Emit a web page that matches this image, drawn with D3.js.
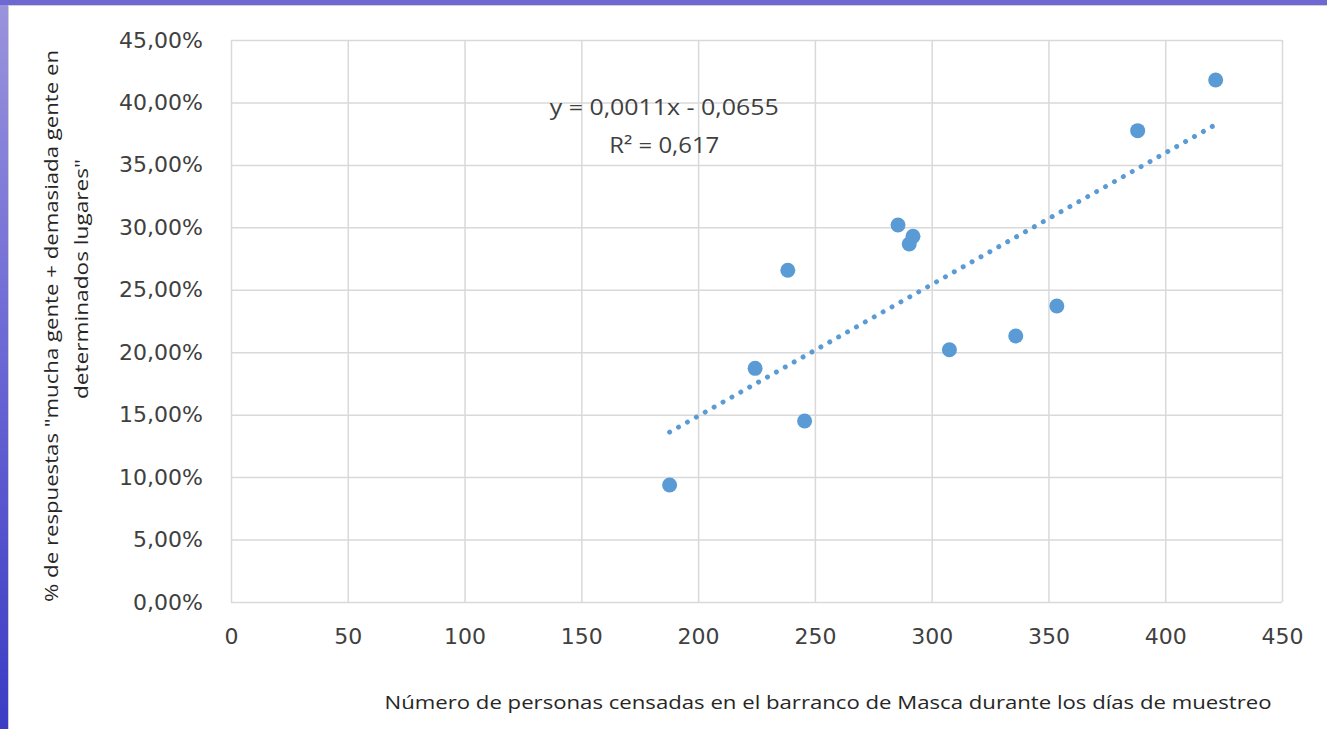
<!DOCTYPE html>
<html>
<head>
<meta charset="utf-8">
<script src="https://cdn.jsdelivr.net/npm/d3@7/dist/d3.min.js"></script>
<style>
  html, body { margin: 0; padding: 0; background: #fff; }
  svg { display: block; }
</style>
</head>
<body>
<div id="chart"></div>
<script>
// personas censadas (x) y % respuestas (y)
var personas = [187.8, 224.4, 238.4, 245.6, 285.6, 292.0, 290.4, 307.6, 336.0, 353.6, 388.2, 421.6]
var respuestas = [0.0937, 0.1871, 0.2656, 0.1449, 0.3019, 0.2928, 0.2866, 0.2020, 0.2130, 0.2370, 0.3774, 0.4180]
var xTicks = [0, 50, 100, 150, 200, 250, 300, 350, 400, 450]
var yTicks = [0, 0.05, 0.10, 0.15, 0.20, 0.25, 0.30, 0.35, 0.40, 0.45]
var equationLines = ["y = 0,0011x  - 0,0655", "R\u00B2 = 0,617"]
var xTitle = "Número  de personas censadas en el barranco de Masca durante los días de muestreo"
var yTitleLines = ["% de respuestas \"mucha gente + demasiada gente en", "determinados lugares\""]

var width = 1327, height = 729
var dimensions = {
  width: width,
  height: height,
  margin: { top: 40, right: 45, bottom: 127, left: 231 }
}
dimensions.boundedWidth = dimensions.width - dimensions.margin.left - dimensions.margin.right
dimensions.boundedHeight = dimensions.height - dimensions.margin.top - dimensions.margin.bottom

var pointColour = '#5B9BD5'
var gridColour = '#D9D9D9'
var textColour = '#404040'

var svg = d3.select("#chart").append("svg")
  .attr("width", width)
  .attr("height", height)

// slide background strips
var grad = svg.append("defs").append("linearGradient")
  .attr("id", "bgGrad").attr("x1", 0).attr("y1", 0).attr("x2", 0).attr("y2", 1)
grad.append("stop").attr("offset", "0%").attr("stop-color", "#9a94dc")
grad.append("stop").attr("offset", "50%").attr("stop-color", "#6a66d4")
grad.append("stop").attr("offset", "100%").attr("stop-color", "#3a3cc4")

svg.append("rect").attr("width", width).attr("height", height).attr("fill", "url(#bgGrad)")
svg.append("rect").attr("x", 0).attr("y", 0).attr("width", width).attr("height", 5)
  .attr("fill", "#6e68d2")
svg.append("rect").attr("x", 8.5).attr("y", 5.5).attr("width", width).attr("height", height)
  .attr("fill", "#fff").attr("stroke", "#d0d0d0").attr("stroke-width", 1)

var bounds = svg.append("g")
  .attr("transform", `translate(${dimensions.margin.left},${dimensions.margin.top})`)

var xScale = d3.scaleLinear()
  .domain([0, 450])
  .range([0, dimensions.boundedWidth])

var yScale = d3.scaleLinear()
  .domain([0, 0.45])
  .range([dimensions.boundedHeight, 0])

var pctFormat = d => d3.format(".2f")(d * 100).replace(".", ",") + "%"

// gridlines
bounds.append("g")
  .call(d3.axisLeft(yScale).tickValues(yTicks).tickSize(-dimensions.boundedWidth).tickFormat(""))
  .call(g => g.select(".domain").remove())
  .call(g => g.selectAll("line").attr("stroke", gridColour).attr("stroke-width", 1.5))

bounds.append("g")
  .call(d3.axisBottom(xScale).tickValues(xTicks).tickSize(dimensions.boundedHeight).tickFormat(""))
  .call(g => g.select(".domain").remove())
  .call(g => g.selectAll("line").attr("stroke", gridColour).attr("stroke-width", 1.5))

// tick labels
var yAxis = bounds.append("g")
  .call(d3.axisLeft(yScale).tickValues(yTicks).tickSize(0).tickPadding(28).tickFormat(pctFormat))
  .call(g => g.select(".domain").remove())
yAxis.selectAll("text")
  .attr("fill", textColour)
  .style("font-family", "DejaVu Sans")
  .style("font-size", "22px")

var xAxis = bounds.append("g")
  .attr("transform", `translate(0,${dimensions.boundedHeight})`)
  .call(d3.axisBottom(xScale).tickValues(xTicks).tickSize(0).tickPadding(26))
  .call(g => g.select(".domain").remove())
xAxis.selectAll("text")
  .attr("fill", textColour)
  .style("font-family", "DejaVu Sans")
  .style("font-size", "22px")

// trendline (least squares from the data)
var mx = d3.mean(personas), my = d3.mean(respuestas)
var sxy = d3.sum(personas, (x, i) => (x - mx) * (respuestas[i] - my))
var sxx = d3.sum(personas, x => (x - mx) * (x - mx))
var slope = sxy / sxx
var intercept = my - slope * mx
var xExtent = d3.extent(personas)
var trend = xExtent.map(x => [x, intercept + slope * x])

bounds.append("path")
  .datum(trend)
  .attr("d", d3.line().x(d => xScale(d[0])).y(d => yScale(d[1])))
  .attr("fill", "none")
  .attr("stroke", pointColour)
  .attr("stroke-width", 5)
  .attr("stroke-linecap", "round")
  .attr("stroke-dasharray", "0.01 10.2")

// points
bounds.selectAll(".node")
  .data(personas)
  .enter()
  .append("circle")
  .attr("class", "node")
  .attr("cx", d => xScale(d))
  .attr("cy", (d, i) => yScale(respuestas[i]))
  .attr("r", 7.5)
  .attr("fill", pointColour)

// equation label
var eqLens = [229, 110]
bounds.append("g")
  .selectAll("text")
  .data(equationLines)
  .enter()
  .append("text")
  .attr("x", xScale(185.5))
  .attr("y", (d, i) => 75 + i * 38)
  .attr("text-anchor", "middle")
  .attr("fill", textColour)
  .attr("textLength", (d, i) => eqLens[i])
  .attr("lengthAdjust", "spacingAndGlyphs")
  .style("font-family", "Open Sans")
  .style("font-size", "22px")
  .text(d => d)

// axis titles
svg.append("text")
  .attr("x", 828)
  .attr("y", 709)
  .attr("text-anchor", "middle")
  .attr("fill", "#262626")
  .attr("textLength", 887)
  .attr("lengthAdjust", "spacingAndGlyphs")
  .style("font-family", "Open Sans")
  .style("font-size", "19px")
  .text(xTitle)

var yCenters = [[58, 326], [88, 279]]
var yLens = [552, 240]
svg.append("g")
  .selectAll("text")
  .data(yTitleLines)
  .enter()
  .append("text")
  .attr("transform", (d, i) => `translate(${yCenters[i][0]},${yCenters[i][1]}) rotate(-90)`)
  .attr("text-anchor", "middle")
  .attr("fill", "#262626")
  .attr("textLength", (d, i) => yLens[i])
  .attr("lengthAdjust", "spacingAndGlyphs")
  .style("font-family", "Open Sans")
  .style("font-size", "19px")
  .text(d => d)
</script>
</body>
</html>
